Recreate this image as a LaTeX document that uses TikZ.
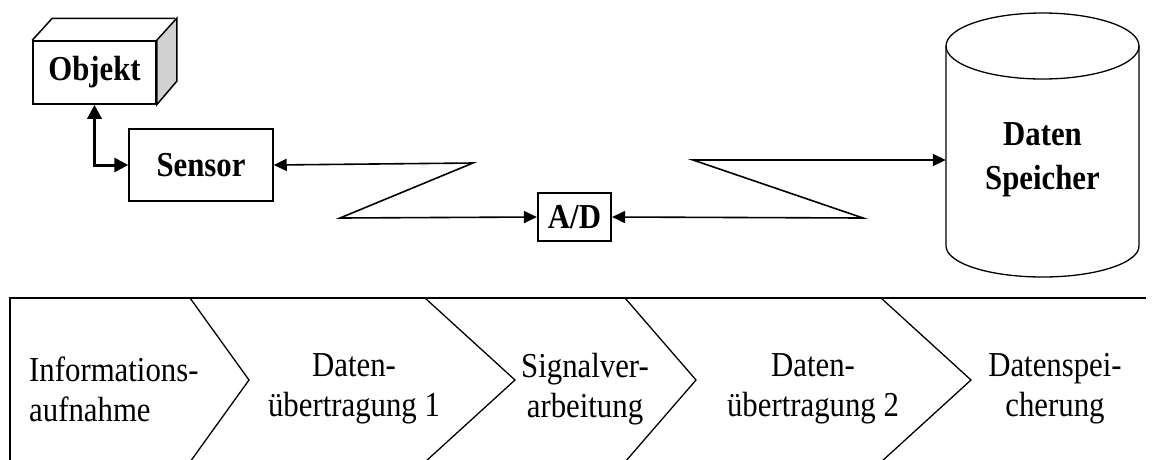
\documentclass[tikz,border=0pt]{standalone}
\usepackage{fontspec}
\setmainfont{Liberation Serif}
\newfontfamily\tallfont[FakeStretch=0.88]{Liberation Serif}
\usetikzlibrary{arrows.meta}

\begin{document}
\begin{tikzpicture}[x=1pt, y=-1pt,
    box/.style={draw, line width=1.5pt, fill=white, inner sep=2pt, font=\tallfont\fontsize{35}{46}\selectfont\bfseries},
    link/.style={line width=1.6pt, {Triangle[length=13pt,width=12pt]}-{Triangle[length=13pt,width=12pt]}},
    stage/.style={font=\tallfont\fontsize{35}{40}\selectfont, align=center, inner sep=0pt}]
  \useasboundingbox (0,0) rectangle (1156,459);

  % Objekt als Quader
  \node[box, minimum width=123, minimum height=63] (objekt) at (94.5,72.5) {Objekt};
  \draw[line width=1.5pt, fill=gray!35] (objekt.north east) -- ++(20,-22) -- ++(0,63) -- (objekt.south east) -- cycle;
  \draw[line width=1.5pt] (objekt.north west) -- ++(20,-22) -- ++(123,0);

  \node[box, minimum width=144, minimum height=72] (sensor) at (201,165) {Sensor};
  \node[box, line width=2.2pt, minimum width=73, minimum height=48] (ad) at (574.5,217) {A/D};
  \node[font=\tallfont\fontsize{35}{44}\selectfont\bfseries, align=center, minimum width=193] (speicher) at (1042.5,160) {Daten\\Speicher};

  % Zylinder
  \draw[line width=1.3pt] (946,46) -- (946,246) arc[start angle=180, end angle=0, x radius=96.5, y radius=31] -- (1139,46);
  \draw[line width=1.3pt] (1042.5,46) ellipse[x radius=96.5, y radius=33];

  \draw[line width=3pt, {Triangle[length=14pt,width=14pt]}-{Triangle[length=14pt,width=14pt]}] (objekt.south) |- (sensor.west);

  \coordinate (k1) at (473,163);
  \coordinate (k2) at (340,218);
  \coordinate (k3) at (863,218);
  \coordinate (k4) at (693,160);
  \draw[link] (sensor.east) -- (k1) -- (k2) -- (ad.west);
  \draw[link] (ad.east) -- (k3) -- (k4) -- (speicher.west);

  % Prozesskette
  \draw[line width=1.3pt] (10,470) -- (10,298) -- (1146,298);
  \foreach \a/\b in {190/249, 425/515, 625/696, 881/971}
    \draw[line width=1.3pt] (\a,298) -- (\b,380) -- (\a,462);

  \node[stage, align=left, anchor=west] (aufnahme) at (29,389) {Informations-\\aufnahme};
  \node[stage] (ueb1) at (354,389) {Daten-\\übertragung 1};
  \node[stage] (verarb) at (585,389) {Signalver-\\arbeitung};
  \node[stage] (ueb2) at (813,389) {Daten-\\übertragung 2};
  \node[stage] (speicherung) at (1055,389) {Datenspei-\\cherung};
\end{tikzpicture}
\end{document}
